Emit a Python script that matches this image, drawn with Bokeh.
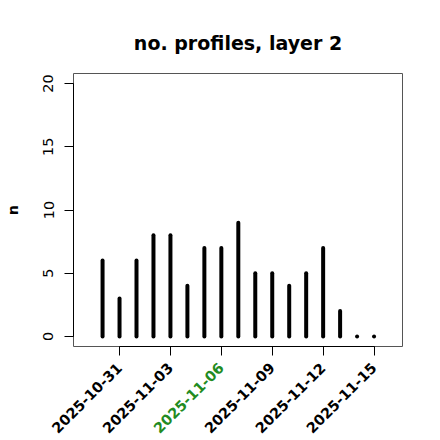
import pandas as pd
from math import pi
from bokeh.plotting import figure
from bokeh.models import Range1d, FixedTicker, DatetimeAxis
from bokeh.embed import file_html
from bokeh.resources import INLINE

# ---- data ----
dates = ["2025-10-30", "2025-10-31", "2025-11-01", "2025-11-02", "2025-11-03",
         "2025-11-04", "2025-11-05", "2025-11-06", "2025-11-07", "2025-11-08",
         "2025-11-09", "2025-11-10", "2025-11-11", "2025-11-12", "2025-11-13",
         "2025-11-14", "2025-11-15"]
counts = [6, 3, 6, 8, 8, 4, 7, 7, 9, 5, 5, 4, 5, 7, 2, 0, 0]
tick_dates = ["2025-10-31", "2025-11-03", "2025-11-06", "2025-11-09",
              "2025-11-12", "2025-11-15"]
highlight_date = "2025-11-06"
highlight_color = "forestgreen"
y_ticks = [0, 5, 10, 15, 20]
title_text = "no. profiles, layer 2"
y_label = "n"

FONT = "DejaVu Sans"
DAY = 86400000.0

def ms(d):
    return float(pd.Timestamp(d).value // 10**6)

xs = [ms(d) for d in dates]
tx = [ms(d) for d in tick_dates]

ymin, ymax = -0.8, 20.8

p = figure(width=440, height=440, x_axis_type="datetime",
           output_backend="svg", toolbar_location=None,
           min_border_left=73, min_border_right=38,
           min_border_top=73, min_border_bottom=92,
           x_range=Range1d(xs[0] - 1.713 * DAY, xs[-1] + 1.677 * DAY),
           y_range=Range1d(ymin, ymax))

p.background_fill_color = "white"
p.border_fill_color = "white"
p.outline_line_color = "#555555"
p.outline_line_width = 1
p.xgrid.visible = False
p.ygrid.visible = False

p.segment(x0=xs, y0=[0] * len(xs), x1=xs, y1=counts,
          line_width=4, line_color="black", line_cap="round")

# title
p.title.text = title_text
p.title.align = "center"
p.title.text_font = FONT
p.title.text_font_size = "19px"
p.title.text_font_style = "bold"
p.title.text_color = "black"
p.title.standoff = 40

# y axis
ya = p.yaxis[0]
ya.ticker = FixedTicker(ticks=y_ticks)
ya.bounds = (y_ticks[0], y_ticks[-1])
ya.axis_line_color = "black"
ya.major_tick_line_color = "black"
ya.major_tick_out = 9
ya.major_tick_in = 0
ya.minor_tick_line_color = None
ya.major_label_orientation = "vertical"
ya.major_label_text_font = FONT
ya.major_label_text_font_size = "14.4px"
ya.major_label_text_color = "black"
ya.major_label_standoff = 11
ya.axis_label = y_label
ya.axis_label_text_font = FONT
ya.axis_label_text_font_size = "14.4px"
ya.axis_label_text_font_style = "bold"
ya.axis_label_text_color = "black"
ya.axis_label_standoff = 20

LABEL_STANDOFF = 10
LABEL_EXTENT = 75  # approx. height of a rotated tick label


def style_x(ax):
    ax.ticker = FixedTicker(ticks=tx)
    ax.bounds = (tx[0], tx[-1])
    ax.major_tick_in = 0
    ax.minor_tick_line_color = None
    ax.major_label_orientation = pi / 4
    ax.major_label_text_font = FONT
    ax.major_label_text_font_size = "14.4px"
    ax.major_label_text_font_style = "bold"


# main x axis: ticks + black labels
xa = p.xaxis[0]
style_x(xa)
xa.major_tick_out = 9
xa.major_label_standoff = LABEL_STANDOFF
xa.axis_line_color = "black"
xa.major_tick_line_color = "black"
xa.major_label_text_color = "black"
xa.major_label_overrides = {t: (s if s != highlight_date else "")
                            for t, s in zip(tx, tick_dates)}

# second x axis (stacked below), pulled back up so that its only label
# lands in the same row as the others, in green
xb = DatetimeAxis()
style_x(xb)
xb.major_tick_out = 0
xb.major_label_standoff = -LABEL_EXTENT
xb.axis_line_color = None
xb.major_tick_line_color = None
xb.major_label_text_color = highlight_color
xb.major_label_overrides = {t: (s if s == highlight_date else "")
                            for t, s in zip(tx, tick_dates)}
p.add_layout(xb, "below")

open("out.html", "w").write(file_html(p, INLINE))
